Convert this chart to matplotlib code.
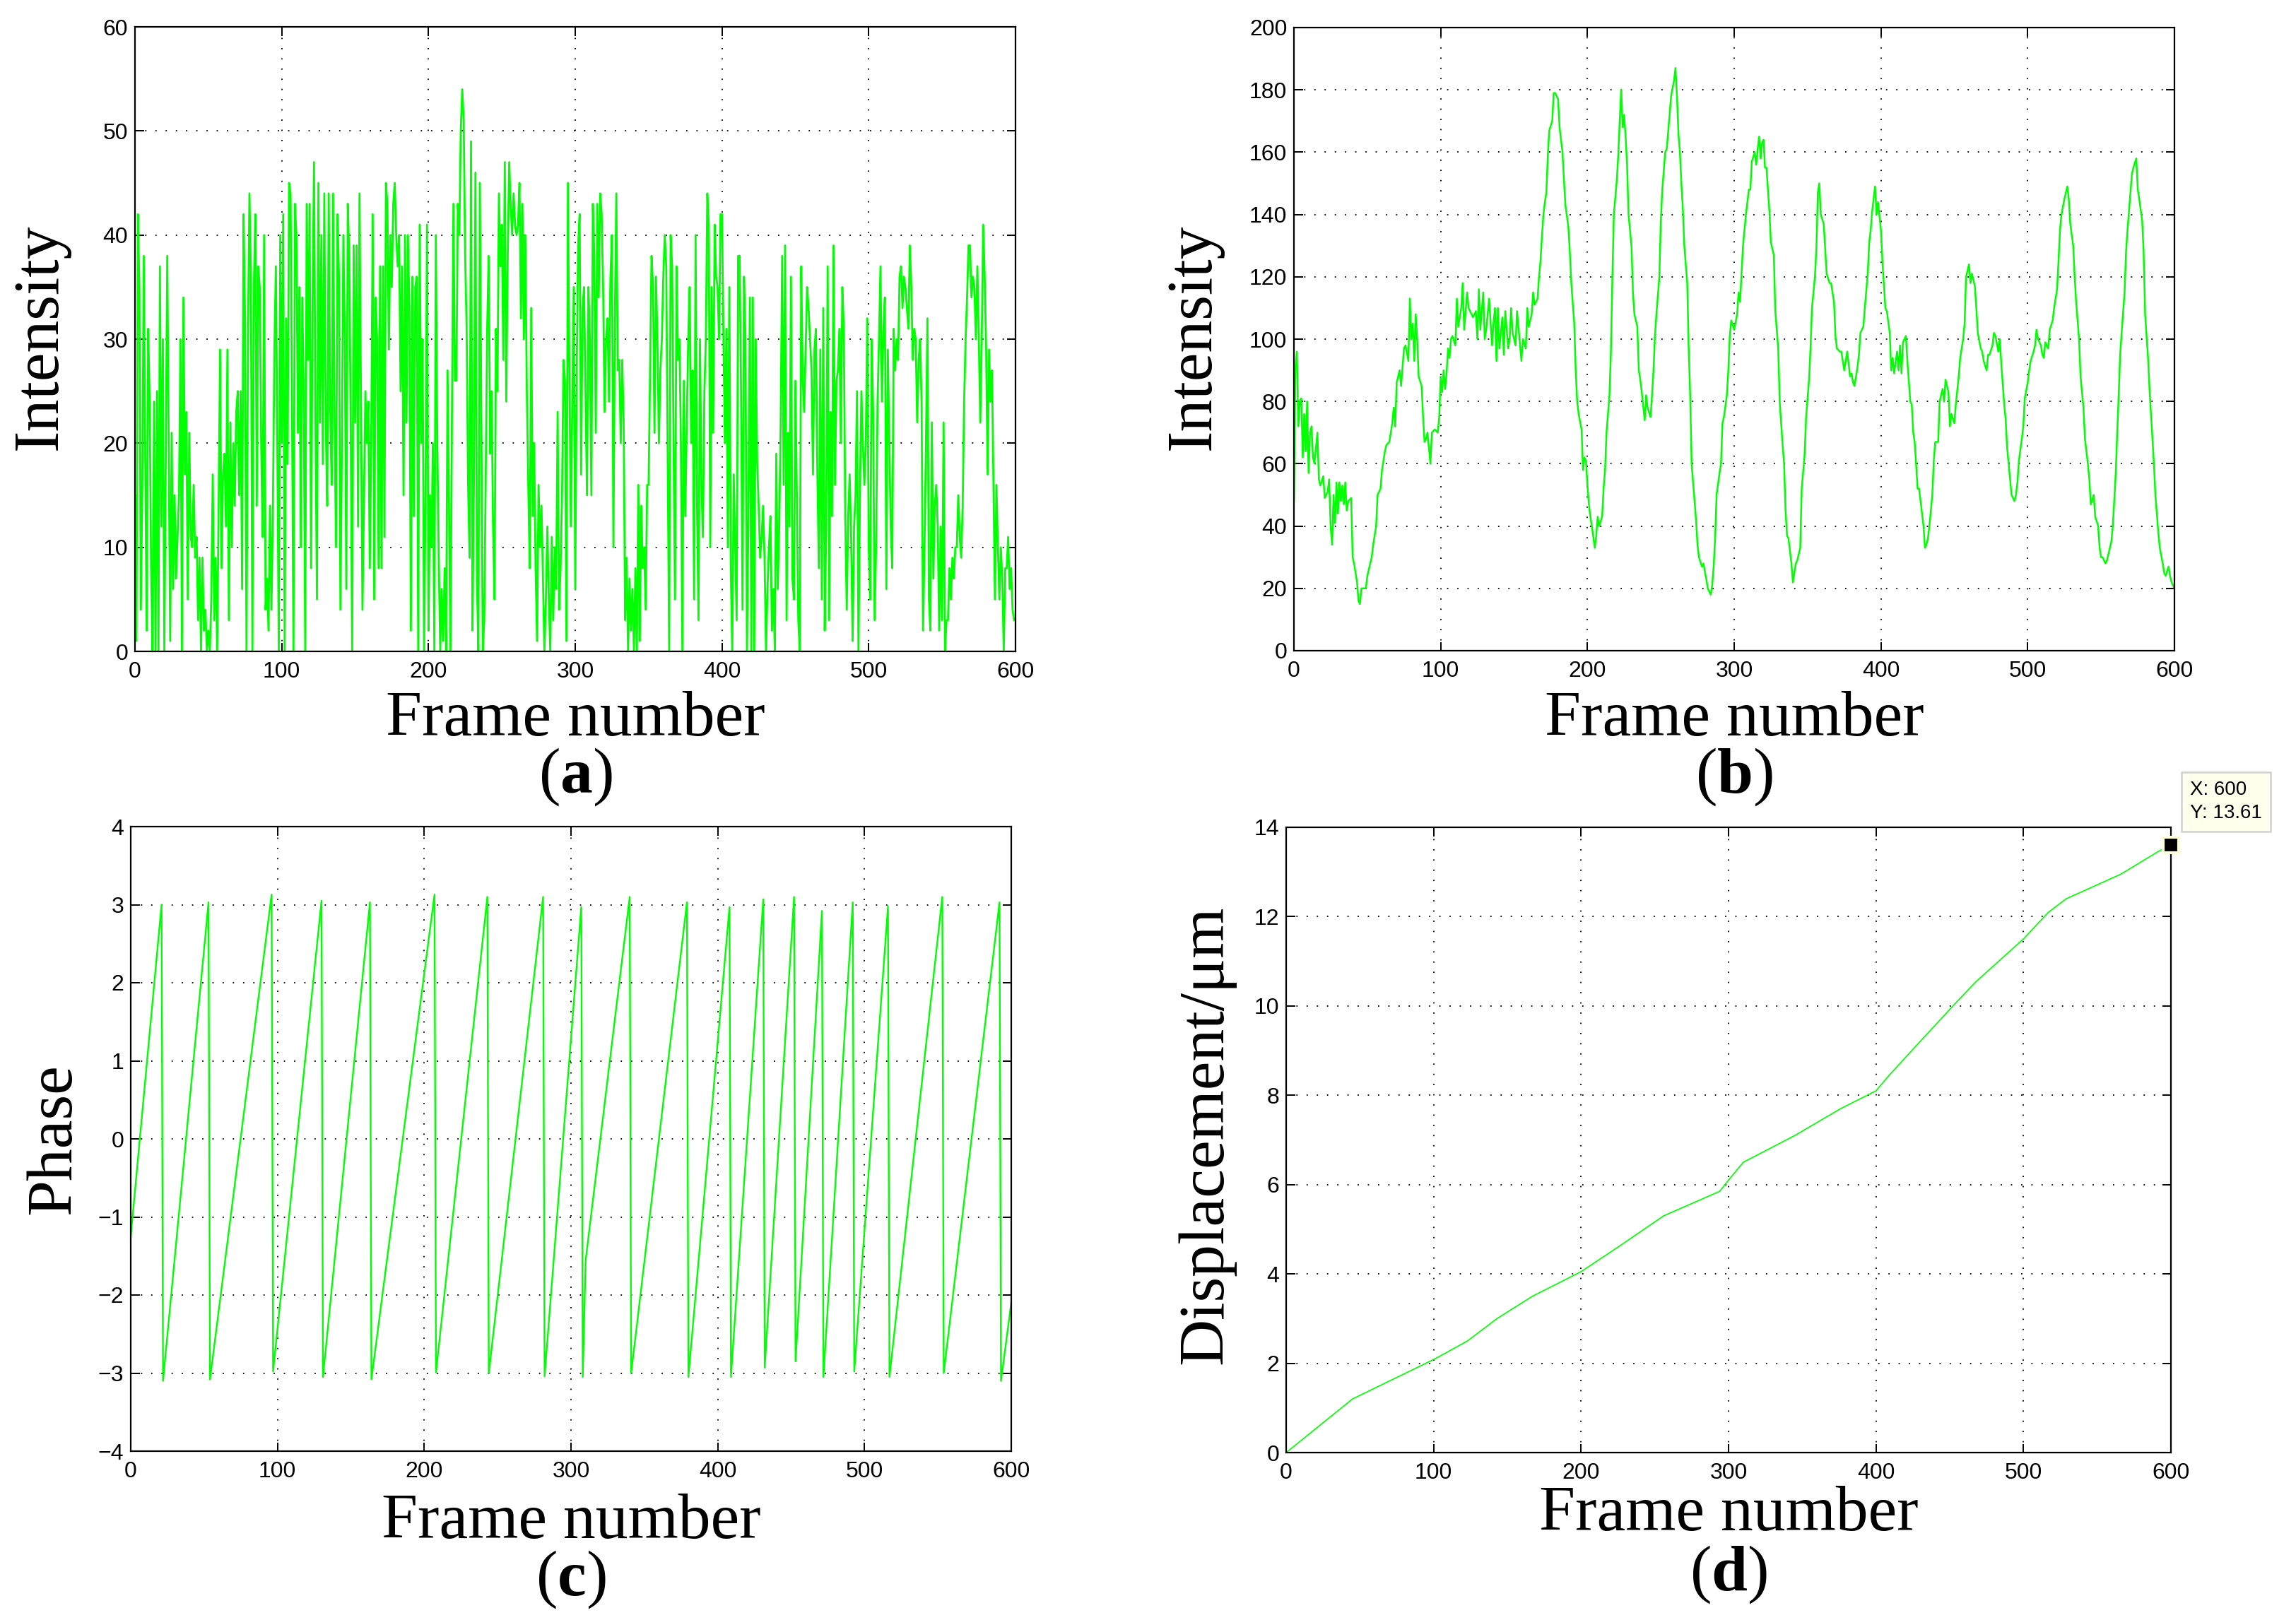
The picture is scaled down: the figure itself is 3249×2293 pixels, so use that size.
import matplotlib
matplotlib.use("Agg")
import matplotlib.pyplot as plt
import numpy as np

# ---------------- data ----------------
frame_ticks = [0, 100, 200, 300, 400, 500, 600]

# (a) raw intensity, one value per frame (0..600)
a_0_99 = [15,1,42,35,4,16,38,19,2,31,
          24,8,0,24,0,25,0,37,12,30,
          0,19,38,19,1,21,6,15,7,11,
          15,30,0,34,17,23,5,21,11,10,
          16,9,11,3,9,0,9,2,4,0,
          2,0,5,17,3,9,0,14,29,8,
          17,19,12,29,3,22,10,20,14,23,
          25,15,25,6,42,32,0,30,44,36,
          0,35,42,14,37,35,20,11,40,4,
          7,2,14,4,14,29,37,20,0,40]
a_100_199 = [20,42,0,32,18,45,44,24,0,43,
             40,21,35,10,34,25,0,43,28,43,
             8,33,47,22,5,45,22,40,18,44,
             22,14,44,24,16,44,22,10,42,36,
             4,20,40,30,6,43,38,22,0,39,
             22,39,12,44,24,4,14,25,20,24,
             8,20,42,5,34,30,8,37,8,37,
             11,45,43,29,40,35,43,45,40,37,
             40,25,37,15,40,22,40,33,2,36,
             13,35,36,0,41,20,30,0,15,41]
a_200_299 = [2,15,10,20,0,40,20,9,0,6,
             1,8,0,27,14,0,23,43,26,26,
             43,40,50,54,51,38,31,16,9,49,
             2,17,46,7,0,45,22,0,3,17,
             31,38,19,25,12,5,31,25,44,37,
             41,28,47,24,38,47,43,40,44,41,
             40,41,45,32,43,30,40,25,16,8,
             33,13,20,8,1,16,10,14,7,0,
             5,12,5,0,11,3,10,6,23,4,
             8,15,28,26,1,45,27,12,24,35]
a_300_399 = [6,27,39,42,17,33,35,25,15,35,
             30,15,43,38,21,43,34,44,42,35,
             23,30,32,24,36,40,10,32,44,27,
             28,20,28,22,3,9,0,7,2,6,
             0,8,0,16,1,14,8,10,4,16,
             16,27,38,35,21,36,30,20,27,30,
             36,40,37,19,0,40,37,20,5,37,
             28,30,20,0,26,13,22,30,35,20,
             27,5,40,14,3,30,16,11,25,30,
             44,41,10,35,21,41,36,35,30,42]
a_400_499 = [42,30,20,31,10,35,8,0,17,10,
             3,38,38,25,4,36,30,0,13,34,
             0,34,0,30,18,14,9,11,14,9,
             0,6,10,13,2,6,0,19,6,12,
             22,38,16,39,3,21,12,36,7,5,
             26,15,3,0,37,26,23,29,35,33,
             30,27,17,29,31,17,8,29,5,33,
             2,12,37,3,23,13,39,16,26,27,
             31,20,35,31,13,4,13,17,11,1,
             12,15,25,0,15,25,20,16,20,32]
a_500_600 = [10,5,30,23,3,10,24,30,37,24,
             31,34,6,29,20,12,8,31,27,30,
             28,36,37,33,36,35,33,31,39,35,
             28,31,30,22,28,30,24,2,10,20,
             32,5,2,22,7,14,16,12,2,12,
             3,22,0,3,3,8,5,9,7,10,
             10,15,11,9,14,24,30,34,39,39,
             34,36,35,30,37,30,22,30,41,36,
             29,17,29,24,27,16,5,16,10,5,
             10,7,0,8,8,11,6,8,4,3,3]

# (b) filtered intensity
b_frames = [0,1,2,3,4,5,6,7,8,9,10,11,12,13,14,16,17,18,20,21,23,24,25,26,27,28,29,30,31,32,33,34,35,36,37,39,
            40,41,43,44,45,46,47,49,50,51,53,54,56,57,59,60,62,63,65,67,68,69,70,72,73,75,76,78,79,80,81,82,83,84,85,87,88,89,
            90,91,93,94,96,98,99,100,101,102,103,104,105,106,107,108,110,111,112,114,115,116,118,119,121,122,124,125,126,127,129,
            130,131,133,135,136,137,138,139,140,142,143,144,146,147,148,149,151,152,153,155,156,158,159,160,162,163,164,166,167,168,169,
            170,171,172,173,174,176,177,178,180,181,183,184,185,187,188,189,191,192,193,194,196,197,198,199,
            200,201,202,203,205,206,207,208,210,211,212,213,215,216,217,218,220,221,222,223,224,225,226,227,228,230,231,232,234,235,236,237,239,
            240,241,243,244,245,246,247,249,250,251,253,254,256,257,259,260,261,262,263,264,265,266,268,269,270,271,273,274,275,276,278,279,
            281,282,284,285,286,287,288,290,291,292,293,295,296,297,298,
            300,302,303,304,305,306,308,310,311,312,314,315,316,317,318,319,320,321,322,324,325,327,328,330,331,333,334,335,336,337,339,
            340,342,343,345,346,348,349,351,352,353,355,356,357,358,359,361,362,363,365,366,368,369,370,372,373,375,377,379,
            380,381,382,384,385,386,388,389,391,392,393,394,396,397,398,400,401,403,404,406,407,408,409,411,412,413,414,415,417,418,
            420,421,422,423,425,426,427,429,430,431,432,433,435,436,437,439,440,442,443,444,446,447,448,450,451,453,454,456,457,458,
            460,461,462,464,465,466,468,469,470,472,473,474,476,477,478,480,481,482,484,485,486,488,489,491,492,493,494,496,497,498,
            500,501,502,504,505,506,507,509,510,511,512,514,515,517,518,520,521,522,523,525,527,528,529,531,532,533,535,536,538,539,
            541,542,543,545,546,548,549,550,551,553,554,556,557,558,560,561,562,563,564,566,567,568,570,571,572,574,575,576,578,579,
            580,582,583,585,586,587,589,590,592,593,594,596,597,598,600]
b_vals = [48,91,96,72,80,81,62,76,64,80,57,70,72,62,60,70,55,53,56,49,51,55,40,34,50,41,54,44,54,48,53,47,54,45,48,49,
          30,28,22,16,15,20,20,20,24,26,30,34,40,50,52,58,64,66,67,73,78,72,86,90,85,97,98,93,113,100,105,93,108,100,88,85,75,67,
          68,70,60,70,71,70,75,88,83,90,84,89,97,94,100,101,98,113,104,110,118,103,115,110,108,107,109,100,116,103,115,
          100,103,113,98,105,110,93,110,97,107,95,109,97,100,110,102,98,109,104,93,100,97,110,104,108,115,111,113,120,125,133,
          140,144,147,159,167,170,179,179,177,168,160,151,143,136,128,118,105,90,80,76,71,58,62,61,
          53,47,43,40,33,37,43,40,43,52,58,70,82,96,120,140,151,159,170,180,168,172,165,156,140,130,115,108,104,90,87,83,74,
          82,78,75,82,90,101,108,120,138,148,160,161,172,178,183,187,178,166,160,150,142,130,118,97,82,60,48,42,34,30,27,28,
          23,20,18,21,27,36,50,57,60,73,75,82,90,101,106,
          103,108,115,112,121,130,140,148,148,157,160,156,161,165,158,163,164,155,155,141,131,127,109,97,80,66,60,45,37,36,28,
          22,28,29,33,52,63,75,87,97,110,120,129,147,150,140,137,129,121,118,118,112,101,97,96,96,90,96,88,
          89,86,85,91,95,102,104,110,121,131,135,141,149,140,144,135,125,110,109,102,90,94,89,96,90,98,89,99,101,93,
          80,79,70,67,52,52,48,40,33,34,36,40,50,61,67,67,80,84,80,87,83,72,76,73,79,88,94,100,105,120,
          124,118,121,117,110,102,97,96,93,90,95,95,98,102,101,96,100,92,79,74,65,55,50,48,50,54,61,68,72,81,
          86,90,93,96,98,103,100,98,95,94,99,97,103,106,110,116,125,135,140,145,149,145,137,130,120,112,100,88,78,68,
          60,55,47,50,43,40,33,30,30,28,29,33,35,40,57,70,82,95,102,115,128,135,147,153,155,158,148,145,138,128,
          108,94,84,68,60,50,38,33,28,25,24,27,24,22,20]

# (c) wrapped phase: vertices of the sawtooth
c_frames = [0, 21, 22, 53, 54, 96, 97, 130, 131, 163, 164, 207, 208, 243, 244,
            281, 282, 307, 308, 310, 340, 341, 379, 380, 408, 409, 431, 432, 452, 453,
            471, 472, 492, 493, 516, 517, 553, 554, 592, 593, 600]
c_vals = [-1.25, 3.0, -3.1, 3.03, -3.08, 3.13, -2.98, 3.05, -3.05, 3.03, -3.08, 3.13, -2.99, 3.1, -3.0,
          3.1, -3.04, 2.97, -3.05, -1.55, 3.1, -3.0, 3.03, -3.05, 2.97, -3.05, 3.07, -2.93, 3.1, -2.85,
          2.92, -3.05, 3.03, -2.98, 2.98, -3.05, 3.1, -3.0, 3.03, -3.1, -2.1]

# (d) displacement
d_frames = [0, 45, 101, 123, 143, 167, 200, 225, 256, 294, 300, 310, 345, 376, 400,
            409, 427, 455, 468, 500, 517, 529, 566, 591, 600]
d_vals = [0, 1.2, 2.1, 2.5, 3.0, 3.5, 4.05, 4.6, 5.3, 5.85, 6.1, 6.5, 7.1, 7.7, 8.1,
          8.45, 9.1, 10.1, 10.55, 11.5, 12.1, 12.4, 12.95, 13.45, 13.61]
tip_x, tip_y = 600, 13.61

# ---------------- style ----------------
plt.rcParams['mathtext.fontset'] = 'custom'
plt.rcParams['mathtext.rm'] = 'Liberation Serif'
plt.rcParams['mathtext.bf'] = 'Liberation Serif:bold'
SERIF = ['Liberation Serif', 'DejaVu Serif']
SANS = ['Liberation Sans', 'DejaVu Sans']
GREEN = '#00ff00'
LABEL_FS = 66
TICK_FS = 23

W, H = 3249, 2293
fig = plt.figure(figsize=(W / 100, H / 100), dpi=100)


def make_ax(l, t, r, b):
    ax = fig.add_axes([l / W, 1 - b / H, (r - l) / W, (b - t) / H])
    for s in ax.spines.values():
        s.set_linewidth(1.6)
        s.set_color('k')
    ax.tick_params(direction='in', top=True, right=True, length=9, width=1.4,
                   labelsize=TICK_FS)
    ax.tick_params(axis='x', pad=10)
    ax.tick_params(axis='y', pad=7)
    ax.grid(True, color='k', linestyle=(0, (1, 7)), linewidth=1.3)
    ax.set_axisbelow(True)
    return ax


def finish(ax, yticks):
    ax.set_xlim(0, 600)
    ax.set_xticks(frame_ticks)
    ax.set_yticks(yticks)
    ax.set_ylim(yticks[0], yticks[-1])
    for lab in ax.get_xticklabels() + ax.get_yticklabels():
        lab.set_family(SANS)
        lab.set_fontsize(TICK_FS)


# (a)
ax_a = make_ax(191, 38, 1437, 922)
a_vals = a_0_99 + a_100_199 + a_200_299 + a_300_399 + a_400_499 + a_500_600
ax_a.plot(np.arange(len(a_vals)), a_vals, color=GREEN, lw=2.0)
finish(ax_a, [0, 10, 20, 30, 40, 50, 60])

# (b)
ax_b = make_ax(1831, 39, 3077, 921)
ax_b.plot(b_frames, b_vals, color=GREEN, lw=1.8)
finish(ax_b, [0, 20, 40, 60, 80, 100, 120, 140, 160, 180, 200])

# (c)
ax_c = make_ax(185, 1170, 1431, 2054)
ax_c.plot(c_frames, c_vals, color=GREEN, lw=1.7)
finish(ax_c, [-4, -3, -2, -1, 0, 1, 2, 3, 4])

# (d)
ax_d = make_ax(1820, 1171, 3072, 2056)
ax_d.plot(d_frames, d_vals, color=GREEN, lw=1.2)
finish(ax_d, [0, 2, 4, 6, 8, 10, 12, 14])
ax_d.plot([tip_x], [tip_y], marker='s', ms=16, color='k', mec='#ffffdd', mew=3,
          clip_on=False, zorder=10)
ax_d.annotate(f"X: {tip_x}\nY: {tip_y}", xy=(tip_x, tip_y), xytext=(27, 61),
              textcoords='offset pixels', ha='left', va='center',
              fontsize=20, family=SANS, linespacing=1.35,
              bbox=dict(boxstyle='square,pad=0.45', fc='#ffffee', ec='#d0d0d0', lw=1.8),
              annotation_clip=False, zorder=11)


def fx(px):
    return px / W


def fy(py):
    return 1 - py / H


xlab_pos = [(814, 1019), (2454, 1019), (808, 2155), (2446, 2144)]
for (x, y) in xlab_pos:
    fig.text(fx(x), fy(y), 'Frame number', family=SERIF, fontsize=LABEL_FS,
             ha='center', va='center')

letters = ['a', 'b', 'c', 'd']
letter_pos = [(814, 1100), (2454, 1100), (808, 2236), (2446, 2229)]
for L, (x, y) in zip(letters, letter_pos):
    fig.text(fx(x), fy(y), r'($\mathbf{' + L + '}$)', family=SERIF,
             fontsize=LABEL_FS, ha='center', va='center')

ylabels = [('Intensity', 58, 477), ('Intensity', 1689, 477),
           ('Phase', 77, 1612), ('Displacement/\u03bcm', 1707, 1606)]
for txt, x, y in ylabels:
    fig.text(fx(x), fy(y), txt, family=SERIF, fontsize=LABEL_FS,
             rotation=90, ha='center', va='center')

fig.savefig('out.png', dpi=100, facecolor='white')
